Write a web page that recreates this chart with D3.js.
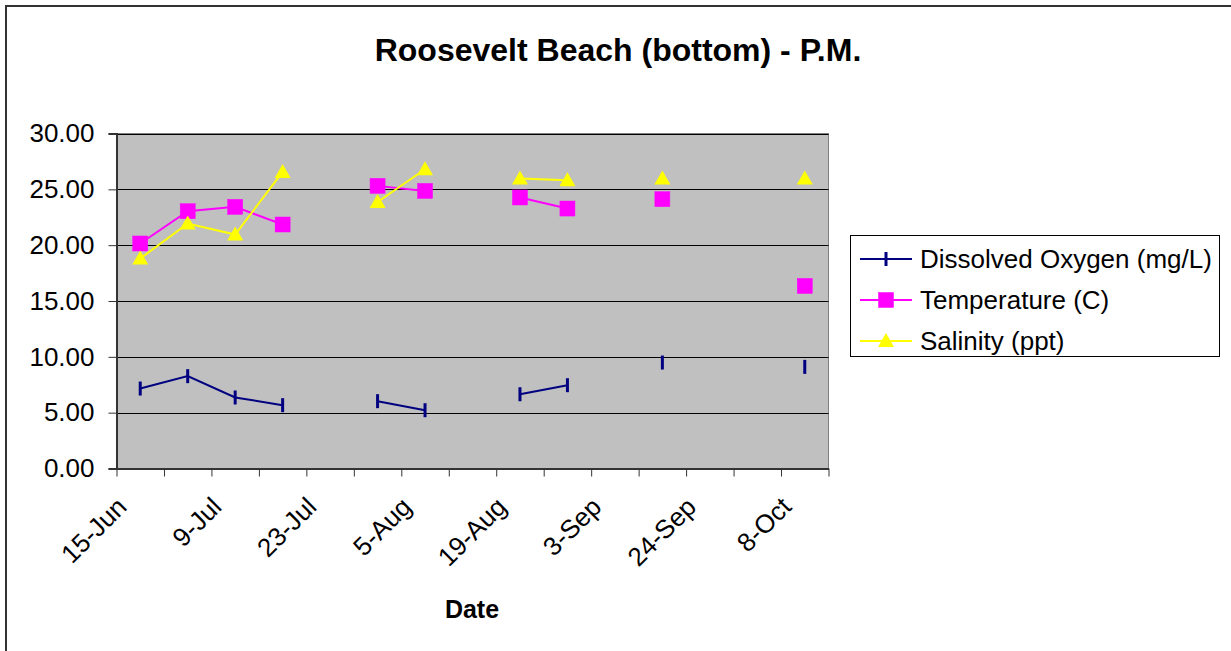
<!DOCTYPE html>
<html>
<head>
<meta charset="utf-8">
<script src="https://cdn.jsdelivr.net/npm/d3@7/dist/d3.min.js"></script>
<style>
  html, body { margin: 0; padding: 0; background: #fff; }
  svg { display: block; font-family: "Liberation Sans", Arial, sans-serif; }
</style>
</head>
<body>
<svg id="chart" width="1231" height="651"></svg>
<script>
// ---- data ----
const categories = ["15-Jun", "", "9-Jul", "", "23-Jul", "", "5-Aug", "", "19-Aug", "", "3-Sep", "", "24-Sep", "", "8-Oct"];
const dissolvedOxygen = [7.16, 8.27, 6.36, 5.67, null, 6.03, 5.22, null, 6.65, 7.46, null, 9.49, null, null, 9.1];
const temperature = [20.15, 23.04, 23.43, 21.85, null, 25.31, 24.86, null, 24.27, 23.28, null, 24.12, null, null, 16.35];
const salinity = [18.8, 21.94, 20.95, 26.56, null, 23.87, 26.8, null, 25.97, 25.82, null, 25.97, null, null, 25.97];
const yTicks = [0, 5, 10, 15, 20, 25, 30];
const seriesNames = ["Dissolved Oxygen (mg/L)", "Temperature (C)", "Salinity (ppt)"];

const series = [
  { name: seriesNames[0], values: dissolvedOxygen, color: "#000080", marker: "dash" },
  { name: seriesNames[1], values: temperature, color: "#FF00FF", marker: "square" },
  { name: seriesNames[2], values: salinity, color: "#FFFF00", marker: "triangle" }
];

const svg = d3.select("#chart");

// outer chart border
svg.append("rect").attr("x", 6).attr("y", 6).attr("width", 1240).attr("height", 660)
  .attr("fill", "#fff").attr("stroke", "#333").attr("stroke-width", 2);

const plot = { left: 116.5, right: 828.5, top: 133.5, bottom: 468.5 };

const x = d3.scaleBand().domain(d3.range(categories.length)).range([plot.left, plot.right]).paddingInner(0).paddingOuter(0);
const y = d3.scaleLinear().domain([0, 30]).range([plot.bottom, plot.top]);
const cx = i => x(i) + x.bandwidth() / 2;

// plot area
svg.append("rect").attr("x", plot.left).attr("y", plot.top)
  .attr("width", plot.right - plot.left).attr("height", plot.bottom - plot.top)
  .attr("fill", "#C0C0C0").attr("stroke", "#808080").attr("stroke-width", 1);

// gridlines
svg.append("g").selectAll("line").data(yTicks.filter(t => t > 0)).join("line")
  .attr("x1", plot.left).attr("x2", plot.right)
  .attr("y1", d => Math.round(y(d)) + 0.5).attr("y2", d => Math.round(y(d)) + 0.5)
  .attr("stroke", "#000").attr("stroke-width", 1);

// y axis
const yAxis = d3.axisLeft(y).tickValues(yTicks).tickFormat(d3.format(".2f")).tickSize(8).tickPadding(14);
const gy = svg.append("g").attr("transform", `translate(${plot.left},0)`).call(yAxis);
gy.select(".domain").attr("stroke", "#333").attr("stroke-width", 2);
gy.selectAll(".tick line").attr("stroke", "#333");
gy.selectAll(".tick text").attr("font-size", 26).attr("font-family", "'Liberation Sans', Arial, sans-serif").attr("fill", "#000");

// x axis (category boundaries as ticks)
const xTickScale = d3.scaleLinear().domain([0, categories.length]).range([plot.left, plot.right]);
const xAxis = d3.axisBottom(xTickScale).tickValues(d3.range(categories.length + 1)).tickFormat("").tickSize(8).tickSizeOuter(0);
const gx = svg.append("g").attr("transform", `translate(0,${plot.bottom})`).call(xAxis);
gx.select(".domain").attr("stroke", "#333").attr("stroke-width", 2);
gx.selectAll(".tick line").attr("stroke", "#333");

// x labels
svg.append("g").selectAll("text").data(categories.map((c, i) => ({ c, i })).filter(d => d.c !== "")).join("text")
  .attr("transform", d => `translate(${cx(d.i) - 12},${plot.bottom + 40}) rotate(-45)`)
  .attr("text-anchor", "end").attr("font-size", 26).attr("fill", "#000")
  .text(d => d.c);

// lines (with gaps)
const line = d3.line().defined(d => d.v != null).x(d => cx(d.i)).y(d => y(d.v));
series.forEach(s => {
  const pts = s.values.map((v, i) => ({ v, i }));
  svg.append("path").datum(pts).attr("d", line)
    .attr("fill", "none").attr("stroke", s.color).attr("stroke-width", 2);
});

function drawMarker(g, type, color, px, py) {
  if (type === "dash") {
    g.append("line").attr("x1", px).attr("x2", px).attr("y1", py - 7).attr("y2", py + 7)
      .attr("stroke", color).attr("stroke-width", 3);
  } else if (type === "square") {
    g.append("rect").attr("x", px - 7.5).attr("y", py - 7.5).attr("width", 15).attr("height", 15)
      .attr("fill", color).attr("stroke", color).attr("stroke-width", 0.5);
  } else {
    g.append("path").attr("d", `M${px},${py - 8}L${px + 8},${py + 6}L${px - 8},${py + 6}Z`)
      .attr("fill", color);
  }
}

series.forEach(s => {
  const g = svg.append("g");
  s.values.forEach((v, i) => { if (v != null) drawMarker(g, s.marker, s.color, cx(i), y(v)); });
});

// title
svg.append("text").attr("x", 618).attr("y", 61).attr("text-anchor", "middle")
  .attr("font-size", 32).attr("font-weight", "bold").attr("fill", "#000")
  .text("Roosevelt Beach (bottom) - P.M.");

// x axis title
svg.append("text").attr("x", 472).attr("y", 618).attr("text-anchor", "middle")
  .attr("font-size", 25).attr("font-weight", "bold").attr("fill", "#000")
  .text("Date");

// legend
const legend = svg.append("g");
legend.append("rect").attr("x", 850.5).attr("y", 235.5).attr("width", 369).attr("height", 121)
  .attr("fill", "#fff").attr("stroke", "#000").attr("stroke-width", 1);
series.forEach((s, k) => {
  const ry = 259 + k * 41;
  legend.append("line").attr("x1", 860).attr("x2", 912).attr("y1", ry).attr("y2", ry)
    .attr("stroke", s.color).attr("stroke-width", 2);
  drawMarker(legend, s.marker, s.color, 886, ry);
  legend.append("text").attr("x", 920).attr("y", ry).attr("dy", "0.35em")
    .attr("font-size", 26).attr("fill", "#000").text(s.name);
});
</script>
</body>
</html>
